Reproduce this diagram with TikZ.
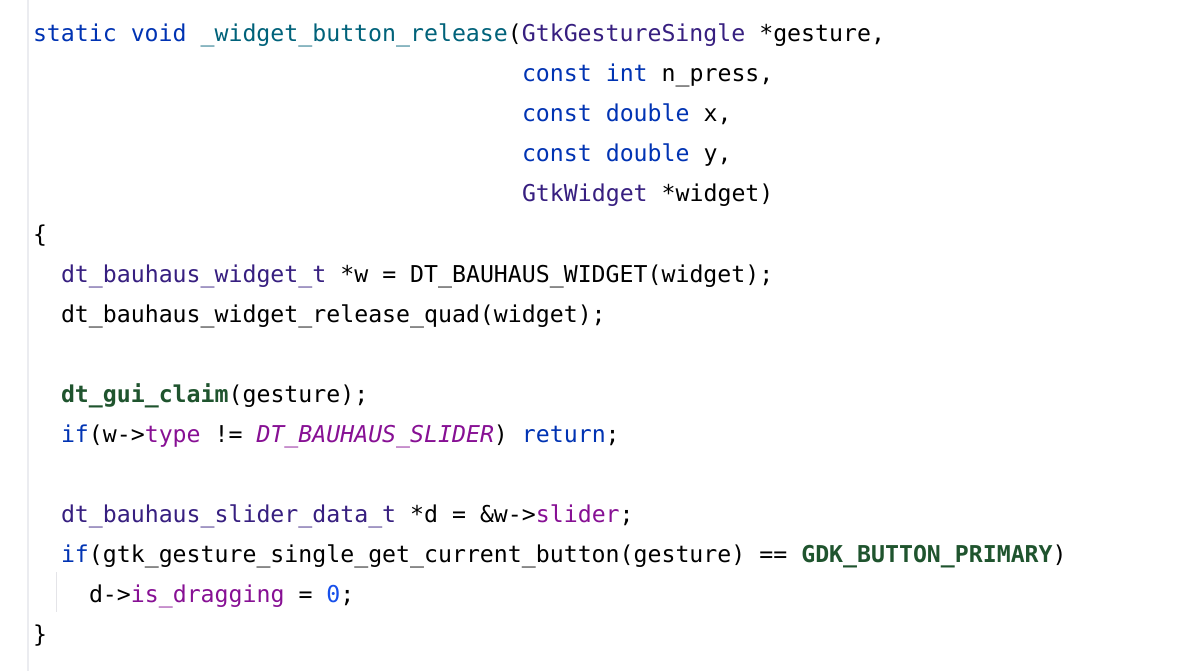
\documentclass[tikz,border=0pt]{standalone}
\usepackage{fontspec}
\newfontfamily\codefont{DejaVu Sans Mono}
\definecolor{kw}{HTML}{0033B3}
\definecolor{fdecl}{HTML}{00627A}
\definecolor{typ}{HTML}{371F80}
\definecolor{fld}{HTML}{871094}
\definecolor{num}{HTML}{1750EB}
\definecolor{mac}{HTML}{1F542E}
\definecolor{gutter}{HTML}{EBECF0}
\definecolor{guide}{HTML}{E4E4E8}
\newcommand{\K}[1]{\textcolor{kw}{#1}}
\newcommand{\FD}[1]{\textcolor{fdecl}{#1}}
\newcommand{\T}[1]{\textcolor{typ}{#1}}
\newcommand{\FL}[1]{\textcolor{fld}{#1}}
\newcommand{\EN}[1]{\textcolor{fld}{\itshape #1}}
\newcommand{\NU}[1]{\textcolor{num}{#1}}
\newcommand{\MC}[1]{\textcolor{mac}{\bfseries #1}}
\begin{document}
\begin{tikzpicture}[x=1pt,y=-1pt,
  codeline/.style={anchor=base west,inner sep=0pt,outer sep=0pt,font=\codefont\fontsize{23.2}{28}\selectfont,text=black}]
\useasboundingbox[fill=white] (0,0) rectangle (1196,671);
\draw[gutter,line width=1.2pt] (28,0) -- (28,671);
\draw[guide,line width=1pt] (56,572) -- (56,612);
% col width 13.97
\node[codeline] (l1) at (33,42) {\K{static} \K{void} \FD{\_widget\_button\_release}(\T{GtkGestureSingle} *gesture,};
\node[codeline] (l2) at (522,82) {\K{const} \K{int} n\_press,};
\node[codeline] (l3) at (522,122) {\K{const} \K{double} x,};
\node[codeline] (l4) at (522,162) {\K{const} \K{double} y,};
\node[codeline] (l5) at (522,202) {\T{GtkWidget} *widget)};
\node[codeline] (l6) at (33,242) {\{};
\node[codeline] (l7) at (61,282) {\T{dt\_bauhaus\_widget\_t} *w = DT\_BAUHAUS\_WIDGET(widget);};
\node[codeline] (l8) at (61,322) {dt\_bauhaus\_widget\_release\_quad(widget);};
\node[codeline] (l10) at (61,402) {\MC{dt\_gui\_claim}(gesture);};
\node[codeline] (l11) at (61,442) {\K{if}(w->\FL{type} != \EN{DT\_BAUHAUS\_SLIDER}) \K{return};};
\node[codeline] (l13) at (61,522) {\T{dt\_bauhaus\_slider\_data\_t} *d = \&w->\FL{slider};};
\node[codeline] (l14) at (61,562) {\K{if}(gtk\_gesture\_single\_get\_current\_button(gesture) == \MC{GDK\_BUTTON\_PRIMARY})};
\node[codeline] (l15) at (89,602) {d->\FL{is\_dragging} = \NU{0};};
\node[codeline] (l16) at (33,642) {\}};
\end{tikzpicture}
\end{document}
